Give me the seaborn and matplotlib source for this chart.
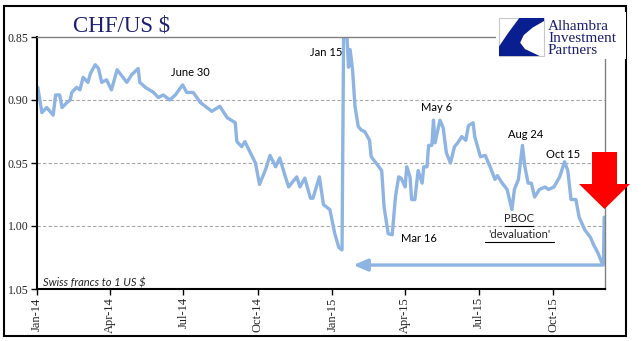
import matplotlib
matplotlib.use("Agg")
import matplotlib.pyplot as plt
import matplotlib.dates as mdates
from matplotlib.patches import Rectangle, Polygon
from matplotlib.lines import Line2D
import seaborn as sns
import pandas as pd
import numpy as np

# ---------------- data ----------------
dates = [
    "2014-01-02", "2014-01-07", "2014-01-13", "2014-01-21", "2014-01-24", "2014-01-29",
    "2014-02-01", "2014-02-07", "2014-02-11", "2014-02-13", "2014-02-19", "2014-02-23",
    "2014-02-27", "2014-03-05", "2014-03-08", "2014-03-14", "2014-03-18", "2014-03-22",
    "2014-03-28", "2014-04-03", "2014-04-10", "2014-04-16", "2014-04-22", "2014-04-28",
    "2014-05-06", "2014-05-08", "2014-05-15", "2014-05-25", "2014-05-31", "2014-06-06",
    "2014-06-14", "2014-06-21", "2014-06-30", "2014-07-05", "2014-07-13", "2014-07-22",
    "2014-07-30", "2014-08-05", "2014-08-15", "2014-08-24", "2014-09-03", "2014-09-05",
    "2014-09-11", "2014-09-15", "2014-09-21", "2014-09-28", "2014-10-03", "2014-10-10",
    "2014-10-16", "2014-10-23", "2014-10-28", "2014-11-04", "2014-11-08", "2014-11-18",
    "2014-11-22", "2014-11-28", "2014-12-05", "2014-12-08", "2014-12-16", "2014-12-21",
    "2014-12-29", "2015-01-04", "2015-01-09", "2015-01-13", "2015-01-15", "2015-01-16",
    "2015-01-19", "2015-01-21", "2015-01-23", "2015-01-26", "2015-01-29", "2015-02-02",
    "2015-02-06", "2015-02-10", "2015-02-16", "2015-02-18", "2015-02-24", "2015-03-03",
    "2015-03-06", "2015-03-11", "2015-03-16", "2015-03-20", "2015-03-24", "2015-03-27",
    "2015-04-01", "2015-04-03", "2015-04-07", "2015-04-09", "2015-04-13", "2015-04-17",
    "2015-04-22", "2015-04-24", "2015-04-28", "2015-04-30", "2015-05-04", "2015-05-06",
    "2015-05-08", "2015-05-14", "2015-05-18", "2015-05-22", "2015-05-27", "2015-06-01",
    "2015-06-05", "2015-06-10", "2015-06-15", "2015-06-18", "2015-06-19", "2015-06-24",
    "2015-06-26", "2015-07-03", "2015-07-09", "2015-07-15", "2015-07-21", "2015-07-24",
    "2015-07-30", "2015-08-05", "2015-08-11", "2015-08-14", "2015-08-19", "2015-08-24",
    "2015-08-27", "2015-08-31", "2015-09-04", "2015-09-08", "2015-09-14", "2015-09-21",
    "2015-09-25", "2015-10-02", "2015-10-09", "2015-10-15", "2015-10-19", "2015-10-23",
    "2015-10-29", "2015-11-02", "2015-11-09", "2015-11-16", "2015-11-20", "2015-11-25",
    "2015-11-30", "2015-12-02", "2015-12-03",
]
rates = [
    0.890, 0.910, 0.906, 0.912, 0.896, 0.896,
    0.906, 0.902, 0.900, 0.894, 0.890, 0.892,
    0.882, 0.886, 0.879, 0.872, 0.875, 0.886,
    0.884, 0.892, 0.876, 0.881, 0.886, 0.880,
    0.875, 0.886, 0.890, 0.894, 0.898, 0.896,
    0.900, 0.896, 0.888, 0.894, 0.894, 0.902,
    0.906, 0.909, 0.905, 0.914, 0.918, 0.933,
    0.937, 0.933, 0.941, 0.950, 0.967, 0.956,
    0.944, 0.953, 0.946, 0.961, 0.969, 0.961,
    0.969, 0.962, 0.978, 0.978, 0.961, 0.983,
    0.987, 1.006, 1.017, 1.019, 0.845, 0.846,
    0.848, 0.874, 0.860, 0.876, 0.905, 0.921,
    0.924, 0.925, 0.932, 0.945, 0.950, 0.956,
    0.985, 1.006, 1.007, 0.977, 0.961, 0.962,
    0.969, 0.953, 0.961, 0.979, 0.979, 0.956,
    0.966, 0.953, 0.953, 0.936, 0.936, 0.916,
    0.934, 0.916, 0.922, 0.942, 0.950, 0.937,
    0.934, 0.929, 0.932, 0.921, 0.920, 0.918,
    0.929, 0.945, 0.944, 0.953, 0.963, 0.960,
    0.966, 0.971, 0.987, 0.971, 0.963, 0.936,
    0.953, 0.966, 0.966, 0.977, 0.971, 0.969,
    0.971, 0.969, 0.961, 0.949, 0.956, 0.979,
    0.979, 0.993, 1.003, 1.009, 1.015, 1.021,
    1.029, 1.030, 0.993,
]
y_ticks = [0.85, 0.90, 0.95, 1.00, 1.05]
x_ticks = ["2014-01-01", "2014-04-01", "2014-07-01", "2014-10-01",
           "2015-01-01", "2015-04-01", "2015-07-01", "2015-10-01"]
annotations = [
    ("June 30", 190, 73),
    ("Jan 15", 326, 52),
    ("May 6", 437, 108),
    ("Aug 24", 526, 134),
    ("Oct 15", 563, 154),
    ("Mar 16", 419, 239),
]

df = pd.DataFrame({"date": pd.to_datetime(dates), "rate": rates})

W, H = 641, 341
LINE_C = "#8db4e2"
NAVY = "#1c1f73"

sns.set_theme(style="white")
plt.rcParams["font.family"] = ["DejaVu Sans"]

fig = plt.figure(figsize=(W / 100, H / 100), dpi=100)
fig.patch.set_facecolor("white")


def fx(x):
    return x / W


def fy(y):
    return 1 - y / H


ax = fig.add_axes([fx(37), fy(289), fx(605) - fx(37), fy(37) - fy(289)])
ax.set_facecolor("white")

sns.lineplot(data=df, x="date", y="rate", ax=ax, color=LINE_C, linewidth=2.4,
             solid_joinstyle="round")

ax.set_xlim(pd.Timestamp("2014-01-01"), pd.Timestamp("2015-12-04"))
ax.set_ylim(1.05, 0.85)
ax.set_yticks(y_ticks)
ax.set_yticklabels([f"{v:.2f}" for v in y_ticks], fontfamily="Liberation Serif", fontsize=8.5)
ax.set_xticks(pd.to_datetime(x_ticks))
ax.xaxis.set_major_formatter(mdates.DateFormatter("%b-%y"))
for lab in ax.get_xticklabels():
    lab.set_rotation(90)
    lab.set_fontfamily("Liberation Serif")
    lab.set_fontsize(9)
ax.set_xlabel("")
ax.set_ylabel("")
ax.tick_params(axis="both", direction="out", length=4, width=1, color="black",
               left=True, bottom=True, pad=2)

for v in [0.90, 0.95, 1.00]:
    ax.axhline(v, color="#a6a6a6", lw=0.8, ls=(0, (3, 2)), zorder=0)

ax.spines["left"].set_color("black")
ax.spines["left"].set_linewidth(1.5)
ax.spines["bottom"].set_color("black")
ax.spines["bottom"].set_linewidth(1.5)
ax.spines["top"].set_color("#808080")
ax.spines["top"].set_linewidth(1.0)
ax.spines["right"].set_color("#808080")
ax.spines["right"].set_linewidth(1.0)

# horizontal arrow back to January
ax.annotate("", xy=(pd.Timestamp("2015-01-27"), 1.031),
            xytext=(pd.Timestamp("2015-12-02"), 1.031),
            arrowprops=dict(arrowstyle="-|>,head_length=0.7,head_width=0.3",
                            color=LINE_C, lw=2.4, shrinkA=0, shrinkB=0))

# title
fig.text(fx(73), fy(26), "CHF/US $", fontfamily="Liberation Serif", fontsize=16.5,
         color=NAVY, ha="left", va="center")

# annotations
for txt, x, y in annotations:
    fig.text(fx(x), fy(y), txt, fontfamily="Lato", fontsize=8, color="black",
             ha="center", va="center")
fig.text(fx(519), fy(219), "PBOC", fontfamily="Lato", fontsize=8, ha="center", va="center")
fig.text(fx(519.5), fy(235), "'devaluation'", fontfamily="Lato", fontsize=8,
         ha="center", va="center")
fig.add_artist(Line2D([fx(505), fx(533)], [fy(225.5), fy(225.5)], color="black", lw=0.8))
fig.add_artist(Line2D([fx(485), fx(554)], [fy(241.5), fy(241.5)], color="black", lw=0.8))
fig.text(fx(43), fy(283), "Swiss francs to 1 US $", fontfamily="Lato", style="italic",
         fontsize=8, ha="left", va="center")

# logo
fig.add_artist(Rectangle((fx(496), fy(59)), fx(626) - fx(496), fy(12) - fy(59),
                         facecolor="white", edgecolor="none", zorder=5))
bx0, bx1, by0, by1 = 499, 544, 18, 56
fig.add_artist(Rectangle((fx(bx0), fy(by1)), fx(bx1) - fx(bx0), fy(by0) - fy(by1),
                         facecolor="white", edgecolor="#c8c8c8", lw=0.8, zorder=6))
shape = [(0.45, 0), (1, 0), (1, 0.08), (0.75, 0.25), (0.55, 0.45), (0.47, 0.65),
         (0.58, 0.82), (0.78, 0.93), (0.9, 1), (0, 1), (0, 0.75), (0.2, 0.4)]
pts = [(fx(bx0 + u * (bx1 - bx0)), fy(by0 + v * (by1 - by0))) for u, v in shape]
fig.add_artist(Polygon(pts, closed=True, facecolor="#0a1f8f", edgecolor="none", zorder=7))
for i, word in enumerate(["Alhambra", "Investment", "Partners"]):
    fig.text(fx(548), fy(26 + i * 12.5), word, fontfamily="Liberation Serif", fontsize=11,
             color=NAVY, ha="left", va="center", zorder=8)

# red arrow
red = [(592, 152), (617, 152), (617, 184), (630, 184), (604.5, 209), (579, 184), (592, 184)]
fig.add_artist(Polygon([(fx(x), fy(y)) for x, y in red], closed=True,
                       facecolor="#ff0000", edgecolor="none", zorder=10))

# outer frame
fig.add_artist(Rectangle((fx(4), fy(336)), fx(626) - fx(4), fy(6) - fy(336),
                         facecolor="none", edgecolor="black", lw=1.5, zorder=4))

fig.savefig("out.png", dpi=100)
